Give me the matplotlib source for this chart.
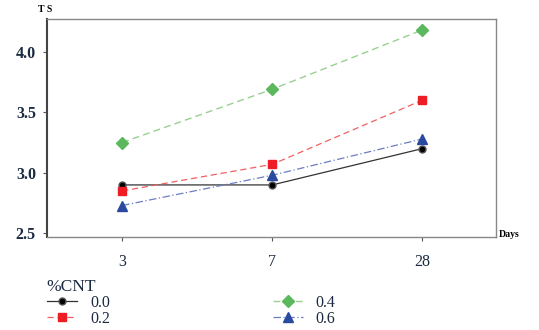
import matplotlib.pyplot as plt

days = ["3", "7", "28"]
cnt_labels = ["0.0", "0.2", "0.4", "0.6"]
ts_00 = [2.90, 2.90, 3.20]
ts_02 = [2.85, 3.07, 3.60]
ts_04 = [3.25, 3.69, 4.18]
ts_06 = [2.73, 2.98, 3.28]

plt.rcParams['font.family'] = ['Liberation Serif', 'DejaVu Serif']

fig = plt.figure(figsize=(5.39, 3.30), dpi=100)
ax = fig.add_axes([0.0872, 0.2818, 0.833, 0.6606])

x = range(len(days))
l0, = ax.plot(x, ts_00, color="#333333", lw=0.9, ls="-", marker="o", ms=5,
              mfc="black", mec="#555555")
l1, = ax.plot(x, ts_02, color="#f06060", lw=0.9, ls=(0, (5, 3)), marker="s", ms=6,
              mfc="#ee1c25", mec="#ee1c25")
l2, = ax.plot(x, ts_04, color="#99d090", lw=1.0, ls=(0, (5, 3)), marker="D", ms=6,
              mfc="#5cb85c", mec="#5cb85c")
l3, = ax.plot(x, ts_06, color="#6b7fc0", lw=0.9, ls=(0, (6, 2, 1, 2)), marker="^", ms=7,
              mfc="#2a4aa0", mec="#2a4aa0")

ax.set_xlim(-0.5, 2.49)
ax.set_ylim(2.47, 4.27)
ax.set_xticks(list(x))
ax.set_xticklabels(days)
ax.set_yticks([2.5, 3.0, 3.5, 4.0])
ax.set_yticklabels(["2.5", "3.0", "3.5", "4.0"])
ax.tick_params(axis="both", labelsize=11.5, colors="#555555", labelcolor="#1a2a40",
               length=3, width=0.8, pad=5)
for lab in ax.get_yticklabels():
    lab.set_fontweight("bold")
ax.tick_params(axis="x", pad=9)

for side in ["top", "right", "bottom"]:
    ax.spines[side].set_color("#888888")
    ax.spines[side].set_linewidth(1.0)
ax.spines["left"].set_color("#444444")
ax.spines["left"].set_linewidth(1.5)

fig.text(0.083, 0.97, "T S", fontsize=7, fontweight="bold", ha="center", va="center")
fig.text(0.925, 0.29, "Days", fontsize=7, fontweight="bold", ha="left", va="center")

leg = fig.legend([l0, l1, l2, l3], cnt_labels, ncol=2, loc="upper left",
                 bbox_to_anchor=(0.069, 0.184), frameon=False, fontsize=11.5,
                 title="%CNT", title_fontsize=12.5, alignment="left",
                 columnspacing=10.2, handlelength=1.9, handletextpad=0.8,
                 labelspacing=0.0, borderpad=0.1)
for t in leg.get_texts():
    t.set_color("#1a2a40")
leg.get_title().set_color("#1a2a40")

fig.savefig("out.png", dpi=100)
